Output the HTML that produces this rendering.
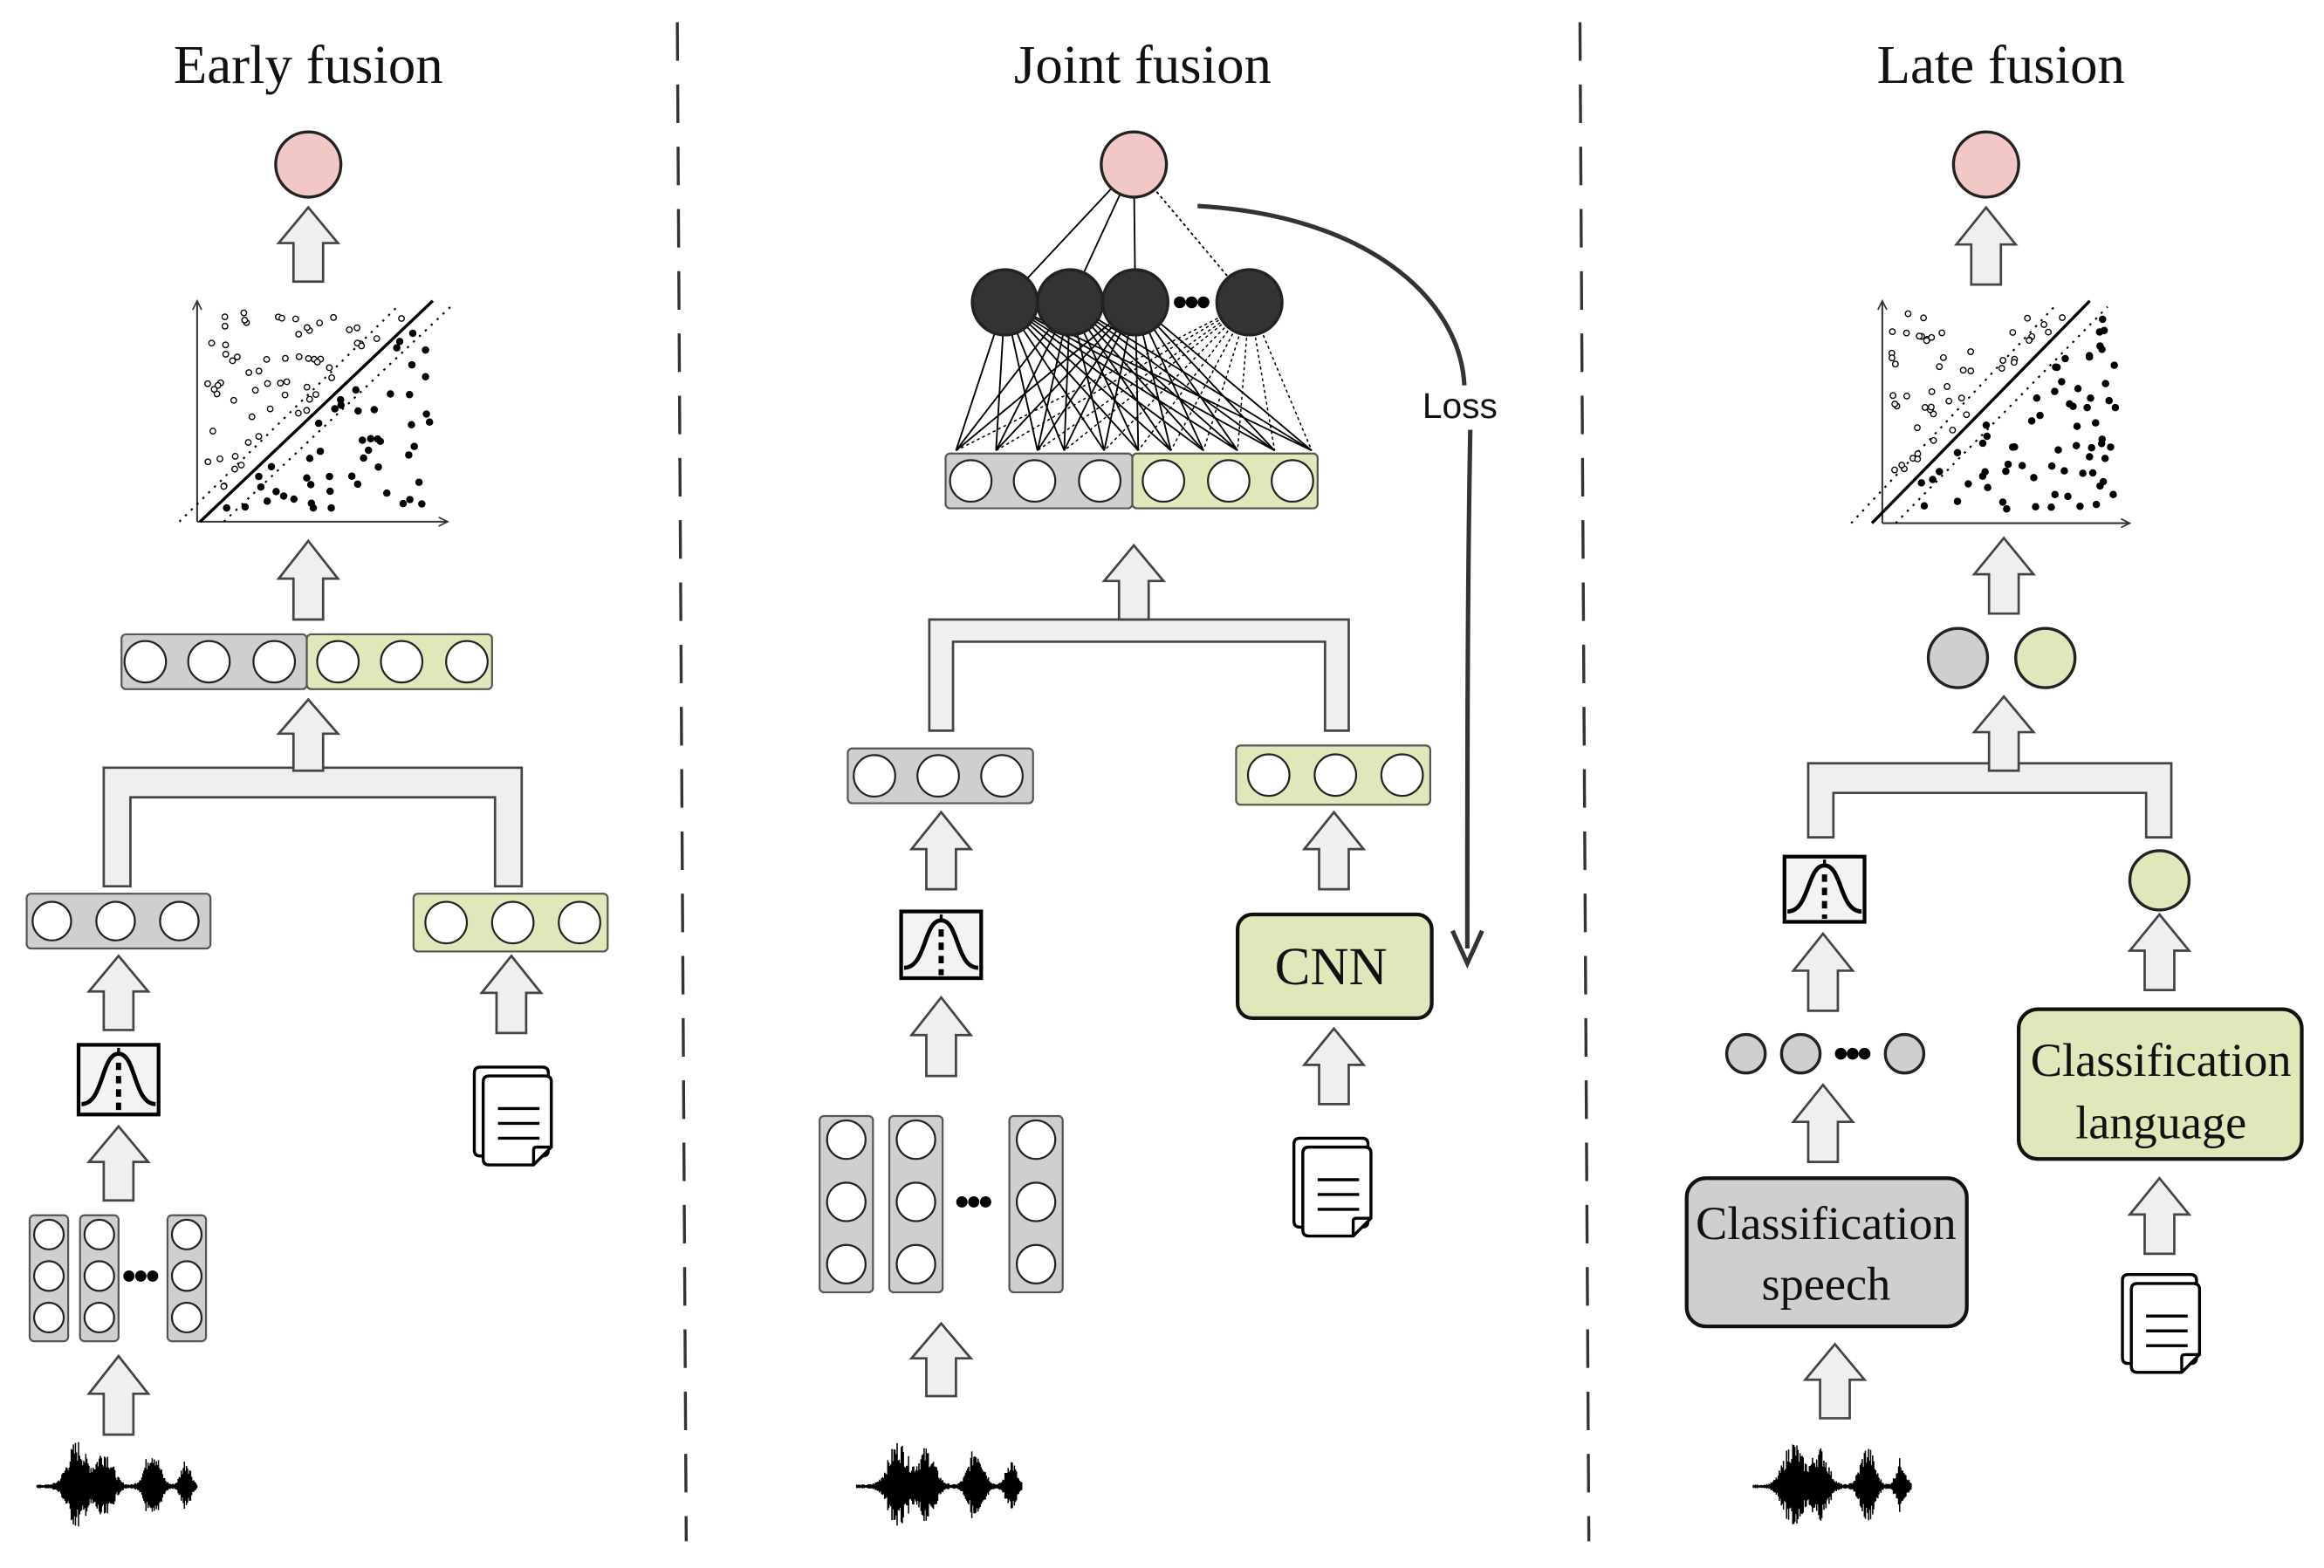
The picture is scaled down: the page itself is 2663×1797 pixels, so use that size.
<!DOCTYPE html>
<html><head><meta charset="utf-8">
<style>
html,body{margin:0;padding:0;background:#fff;}
svg{display:block;}
.t{font-family:"Liberation Serif",serif;fill:#111;}
</style></head>
<body>
<svg id="s" xmlns="http://www.w3.org/2000/svg" width="2663" height="1797" viewBox="0 0 1568 1058" preserveAspectRatio="none">
<rect width="1568" height="1058" fill="#fff"/>
<text class="t" x="208" y="56" font-size="37" text-anchor="middle">Early fusion</text>
<text class="t" x="771" y="56" font-size="37" text-anchor="middle">Joint fusion</text>
<text class="t" x="1350" y="56" font-size="37" text-anchor="middle">Late fusion</text>
<line x1="457" y1="15" x2="463" y2="1040" stroke="#333" stroke-width="2" stroke-dasharray="26,16"/>
<line x1="1066" y1="15" x2="1072" y2="1040" stroke="#333" stroke-width="2" stroke-dasharray="26,16"/>
<g id="g"></g>
<path d="M808,139 C920,145 985,200 988,260 M992,290 C990,400 990,520 990,640" fill="none" stroke="#333" stroke-width="3"/>
<path d="M980,628 L990,650 L1000,628" fill="none" stroke="#333" stroke-width="3"/>
<text x="985" y="282" font-family="Liberation Sans,sans-serif" font-size="24" text-anchor="middle" fill="#111">Loss</text>
<rect x="835" y="617" width="131" height="70" rx="10" fill="#dfe8b8" stroke="#111" stroke-width="2.5"/>
<text class="t" x="898" y="664" font-size="36" text-anchor="middle">CNN</text>
<rect x="1138" y="795" width="189" height="100" rx="13" fill="#cfcfcf" stroke="#111" stroke-width="2.5"/>
<text class="t" x="1232" y="836" font-size="32" text-anchor="middle">Classification</text>
<text class="t" x="1232" y="877" font-size="32" text-anchor="middle">speech</text>
<rect x="1362" y="681" width="191" height="101" rx="13" fill="#dfe8b8" stroke="#111" stroke-width="2.5"/>
<text class="t" x="1458" y="726" font-size="32" text-anchor="middle">Classification</text>
<text class="t" x="1458" y="768" font-size="32" text-anchor="middle">language</text>
</svg>
<script>
var g=document.getElementById('g'),h='';
var GR='#cfcfcf',GN='#dfe8b8';
function arrow(x,y1,y2){var hh=(y2-y1)*0.48,hw=20,sw=10;
h+='<path d="M'+x+','+y1+' L'+(x+hw)+','+(y1+hh)+' L'+(x+sw)+','+(y1+hh)+' L'+(x+sw)+','+y2+' L'+(x-sw)+','+y2+' L'+(x-sw)+','+(y1+hh)+' L'+(x-hw)+','+(y1+hh)+' Z" fill="#efefef" stroke="#444" stroke-width="1.6"/>';}
function circ(x,y,r,f,sw){h+='<circle cx="'+x+'" cy="'+y+'" r="'+r+'" fill="'+f+'" stroke="#222" stroke-width="'+(sw||1.5)+'"/>';}
function vec(x1,y1,x2,y2,f,cs,r){h+='<rect x="'+x1+'" y="'+y1+'" width="'+(x2-x1)+'" height="'+(y2-y1)+'" rx="3" fill="'+f+'" stroke="#555" stroke-width="1.3"/>';cs.forEach(function(c){circ(c,(y1+y2)/2,r,'#fff',1.3)});}
function bracket(x1,x2,yt,yb,yl,w){var t=w;h+='<path d="M'+x1+','+yl+' L'+x1+','+yt+' L'+x2+','+yt+' L'+x2+','+yl+' L'+(x2-t)+','+yl+' L'+(x2-t)+','+yb+' L'+(x1+t)+','+yb+' L'+(x1+t)+','+yl+' Z" fill="#efefef" stroke="#444" stroke-width="1.6"/>';}
function gauss(x,y,w,hh){h+='<rect x="'+x+'" y="'+y+'" width="'+w+'" height="'+hh+'" fill="#f3f3f3" stroke="#000" stroke-width="2.5"/>';
var cx=x+w/2,b=y+hh-7,t=y+6;h+='<path d="M'+(x+2)+','+b+' C'+(cx-10)+','+b+' '+(cx-12)+','+t+' '+cx+','+t+' C'+(cx+12)+','+t+' '+(cx+10)+','+b+' '+(x+w-2)+','+b+'" fill="none" stroke="#000" stroke-width="2.8"/>';
h+='<line x1="'+cx+'" y1="'+(y+2)+'" x2="'+cx+'" y2="'+(y+5)+'" stroke="#000" stroke-width="2"/><line x1="'+cx+'" y1="'+(t+6)+'" x2="'+cx+'" y2="'+(y+hh-2)+'" stroke="#000" stroke-width="3.5" stroke-dasharray="5,4"/>';}
function doc(x,y){h+='<path d="M'+x+','+(y+4)+' q0,-4 4,-4 h42 q4,0 4,4 v52 q0,4 -4,4 h-42 q-4,0 -4,-4 Z" fill="#fff" stroke="#000" stroke-width="2"/>';
h+='<path d="M'+(x+6)+','+(y+10)+' q0,-4 4,-4 h38 q4,0 4,4 v44 l-12,12 h-30 q-4,0 -4,-4 Z" fill="#fff" stroke="#000" stroke-width="2"/>';
h+='<path d="M'+(x+40)+','+(y+66)+' v-10 q0,-2 2,-2 h10" fill="none" stroke="#000" stroke-width="2"/>';
for(var i=0;i<3;i++)h+='<line x1="'+(x+16)+'" y1="'+(y+28+i*10)+'" x2="'+(x+44)+'" y2="'+(y+28+i*10)+'" stroke="#000" stroke-width="2"/>';}
var seed=7;function rnd(){seed=(seed*9301+49297)%233280;return seed/233280;}
function wave(x1,x2,cy){var d='';for(var x=x1;x<=x2;x+=0.7){var p=(x-x1)/(x2-x1);
var e=0.04+0.9*Math.exp(-Math.pow((p-0.25)/0.08,2))+0.75*Math.exp(-Math.pow((p-0.42)/0.07,2))+0.8*Math.exp(-Math.pow((p-0.72)/0.06,2))+0.55*Math.exp(-Math.pow((p-0.93)/0.04,2));
var a=e*(0.5+0.5*rnd())*34;d+='M'+x.toFixed(1)+','+(cy-a).toFixed(1)+'V'+(cy+a*0.9).toFixed(1);}
h+='<path d="'+d+'" stroke="#000" stroke-width="0.9"/>';}
function spec(cols,y1,y2,w,r,cys,dx){cols.forEach(function(c){vec(c,y1,c+w,y2,GR,[],0);cys.forEach(function(cy){circ(c+w/2,cy,r,'#fff',1.3)})});
for(var i=0;i<3;i++)h+='<circle cx="'+(dx-8+i*8)+'" cy="'+cys[1]+'" r="3.8" fill="#000"/>';}
function scatter(ox,oy,ex,ty,lx1,lx2){h+='<path d="M'+ox+','+oy+' H'+ex+' M'+ox+','+oy+' V'+ty+'" stroke="#333" stroke-width="1.2" fill="none"/>';
h+='<path d="M'+(ex-6)+','+(oy-3)+' L'+ex+','+oy+' L'+(ex-6)+','+(oy+3)+' M'+(ox-3)+','+(ty+6)+' L'+ox+','+ty+' L'+(ox+3)+','+(ty+6)+'" stroke="#333" fill="none"/>';
h+='<line x1="'+lx1+'" y1="'+oy+'" x2="'+lx2+'" y2="'+(ty)+'" stroke="#000" stroke-width="2"/>';
h+='<line x1="'+(lx1-14)+'" y1="'+oy+'" x2="'+(lx2-24)+'" y2="'+(ty+4)+'" stroke="#000" stroke-width="1.3" stroke-dasharray="1.5,4"/>';
h+='<line x1="'+(lx1+16)+'" y1="'+oy+'" x2="'+(lx2+12)+'" y2="'+(ty+4)+'" stroke="#000" stroke-width="1.3" stroke-dasharray="1.5,4"/>';
var W=lx2-lx1,Hh=oy-ty;for(var i=0;i<130;i++){var u=rnd(),v=rnd();var x=ox+6+u*(ex-ox-14),y=ty+8+v*(oy-ty-16);
var lineX=lx1+(oy-y)/Hh*W;if(Math.abs(x-lineX)<6)continue;
if(x<lineX)h+='<circle cx="'+x.toFixed(1)+'" cy="'+y.toFixed(1)+'" r="1.9" fill="#fff" stroke="#000" stroke-width="0.8"/>';
else h+='<circle cx="'+x.toFixed(1)+'" cy="'+y.toFixed(1)+'" r="2.5" fill="#000"/>';}}
circ(208,111,22,'#f4c7c7',2);arrow(208,140,190);
scatter(133,352,302,203,135,292);
arrow(208,365,418);
vec(82,428,207,465,GR,[98,141,185],14);vec(207,428,332,465,GN,[228,271,315],14);
bracket(70,352,518,538,598,18);arrow(208,472,520);
vec(18,603,142,640,GR,[35,78,121],13);vec(279,603,410,642,GN,[301,346,391],14);
arrow(80,645,695);arrow(345,645,697);
gauss(53,705,54,47);doc(320,720);arrow(80,760,810);
spec([20,54,113],820,905,26,10,[833,861,889],95);
arrow(80,915,968);wave(25,133,1003);
var hid=[678,722,766,843],vx=[645,672,700,718,745,768,790,812,835,860,885];
hid.forEach(function(hx,i){vx.forEach(function(v){h+='<line x1="'+hx+'" y1="204" x2="'+v+'" y2="304" stroke="#000" stroke-width="'+(i==3?0.9:1.1)+'" '+(i==3?'stroke-dasharray="2,2"':'')+'/>';});
h+='<line x1="765" y1="111" x2="'+hx+'" y2="204" stroke="#000" stroke-width="1.1" '+(i==3?'stroke-dasharray="2,2"':'')+'/>';});
circ(765,111,22,'#f4c7c7',2);
hid.forEach(function(hx){circ(hx,204,22,'#333',2)});
for(var i=0;i<3;i++)h+='<circle cx="'+(796+i*8)+'" cy="204" r="4" fill="#000"/>';
vec(638,306,764,343,GR,[655,698,742],14);vec(764,306,889,343,GN,[785,829,872],14);
bracket(627,910,418,433,493,16);arrow(765,368,418);
vec(572,505,697,542,GR,[590,633,676],14);vec(834,503,965,543,GN,[856,901,946],14);
arrow(635,548,600);arrow(900,548,600);
gauss(608,615,54,45);arrow(635,673,726);
spec([553,600,681],753,872,36,13,[769,811,853],657);
arrow(635,893,942);wave(578,690,1003);
arrow(900,694,745);doc(873,768);
circ(1340,111,22,'#f4c7c7',2);arrow(1340,140,192);
scatter(1270,353,1437,203,1263,1410);
arrow(1352,363,414);circ(1321,444,20,GR,2);circ(1380,444,20,GN,2);
bracket(1220,1465,515,535,565,17);arrow(1352,470,520);
gauss(1204,578,54,44);circ(1457,594,20,GN,2);
arrow(1230,630,682);arrow(1457,617,668);
circ(1178,711,13,GR,2);circ(1215,711,13,GR,2);circ(1285,711,13,GR,2);
for(var i=0;i<3;i++)h+='<circle cx="'+(1242+i*8)+'" cy="711" r="4" fill="#000"/>';
arrow(1230,732,784);arrow(1457,795,846);doc(1432,860);
arrow(1238,907,957);wave(1183,1290,1003);
g.innerHTML=h;
</script>
</body></html>
